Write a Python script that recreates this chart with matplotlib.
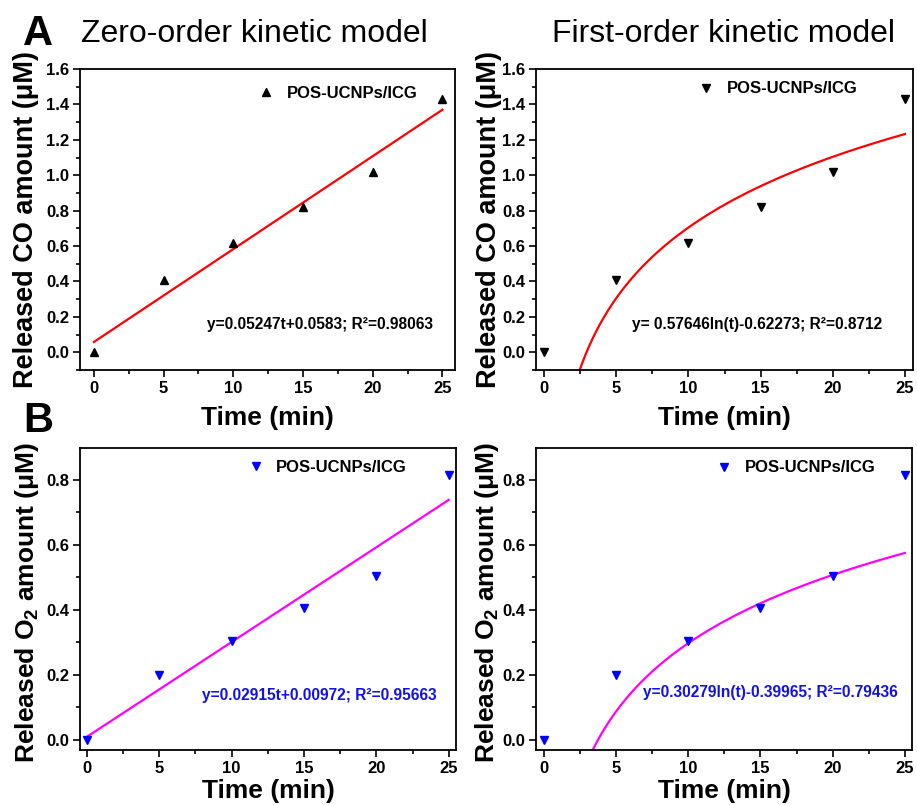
import numpy as np
import matplotlib
matplotlib.use("Agg")
import matplotlib.pyplot as plt
from matplotlib.ticker import MultipleLocator

plt.rcParams["font.family"] = ["Liberation Sans", "DejaVu Sans"]
plt.rcParams["font.weight"] = "bold"
plt.rcParams["mathtext.fontset"] = "custom"
plt.rcParams["mathtext.rm"] = "Liberation Sans:bold"
plt.rcParams["mathtext.it"] = "Liberation Sans:bold"
plt.rcParams["mathtext.bf"] = "Liberation Sans:bold"

# Release measurements
time_min = [0, 5, 10, 15, 20, 25]
co_released = [0.0, 0.41, 0.615, 0.82, 1.02, 1.43]
o2_released = [0.0, 0.20, 0.305, 0.405, 0.505, 0.815]

# Fitted model parameters
co_zero = (0.05247, 0.0583)
co_first = (0.57646, -0.62273)
o2_zero = (0.02915, 0.00972)
o2_first = (0.30279, -0.39965)

co_zero_eq = "y=0.05247t+0.0583; R\u00b2=0.98063"
co_first_eq = "y= 0.57646ln(t)-0.62273; R\u00b2=0.8712"
o2_zero_eq = "y=0.02915t+0.00972; R\u00b2=0.95663"
o2_first_eq = "y=0.30279ln(t)-0.39965; R\u00b2=0.79436"

series_label = "POS-UCNPs/ICG"

W, H = 917, 805
fig = plt.figure(figsize=(W / 100, H / 100), dpi=100)


def axes_px(left, right, top, bottom):
    return fig.add_axes([left / W, 1 - bottom / H, (right - left) / W, (bottom - top) / H])


def style(ax, xlim, ylim, ymajor, yminor, xpad):
    ax.set_xlim(*xlim)
    ax.set_ylim(*ylim)
    ax.xaxis.set_major_locator(MultipleLocator(5))
    ax.xaxis.set_minor_locator(MultipleLocator(2.5))
    ax.yaxis.set_major_locator(MultipleLocator(ymajor))
    ax.yaxis.set_minor_locator(MultipleLocator(yminor))
    ax.tick_params(which="both", direction="out", top=False, right=False,
                   width=1.2, labelsize=12)
    ax.tick_params(which="major", length=5, pad=3)
    ax.tick_params(which="minor", length=3)
    for s in ax.spines.values():
        s.set_linewidth(1.3)
    for lab in ax.get_xticklabels() + ax.get_yticklabels():
        lab.set_fontweight("bold")
    ax.set_xlabel("Time (min)", fontsize=19, fontweight="bold", labelpad=xpad)


def legend(ax, xr, yc):
    ax.legend(loc="center right", bbox_to_anchor=(xr, yc), frameon=False,
              borderaxespad=0, borderpad=0, handlelength=1.0,
              handletextpad=0.75, prop={"size": 12, "weight": "bold"})


t = np.linspace(0, 25, 200)

# A: CO zero-order
ax = axes_px(80, 455, 69, 370)
ax.plot(time_min, co_released, "^", color="black", ms=6, label=series_label, zorder=3)
ax.plot(t, co_zero[0] * t + co_zero[1], color="#ff0000", lw=1.6)
style(ax, (-1.0, 25.9), (-0.1, 1.6), 0.2, 0.1, 7)
ax.set_ylabel("Released CO amount (\u03bcM)", fontsize=19.5, fontweight="bold")
ax.yaxis.set_label_coords(-0.108, 0.5)
ax.text(0.339, 0.150, co_zero_eq, transform=ax.transAxes, fontsize=11.2,
        fontweight="bold", ha="left", va="center")
legend(ax, 0.901, 0.920)

# A: CO first-order
ax = axes_px(536, 913, 69, 370)
ax.plot(time_min, co_released, "v", color="black", ms=6, label=series_label, zorder=3)
t0 = np.exp((-0.1 - co_first[1]) / co_first[0])
tl = np.linspace(t0, 25, 300)
ax.plot(tl, co_first[0] * np.log(tl) + co_first[1], color="#ff0000", lw=1.6)
style(ax, (-0.55, 25.55), (-0.1, 1.6), 0.2, 0.1, 7)
ax.set_ylabel("Released CO amount (\u03bcM)", fontsize=19.5, fontweight="bold")
ax.yaxis.set_label_coords(-0.089, 0.5)
ax.text(0.255, 0.150, co_first_eq, transform=ax.transAxes, fontsize=11.2,
        fontweight="bold", ha="left", va="center")
legend(ax, 0.854, 0.934)

# B: O2 zero-order
ax = axes_px(80, 456, 448, 750)
ax.plot(time_min, o2_released, "v", color="#0000ff", ms=6, label=series_label, zorder=3)
ax.plot(t, o2_zero[0] * t + o2_zero[1], color="#ff00ff", lw=1.6)
style(ax, (-0.48, 25.5), (-0.031, 0.898), 0.2, 0.1, 2)
ax.set_ylabel("Released O$_2$ amount (\u03bcM)", fontsize=19, fontweight="bold")
ax.yaxis.set_label_coords(-0.105, 0.49)
ax.text(0.324, 0.179, o2_zero_eq, transform=ax.transAxes, fontsize=11.2,
        fontweight="bold", ha="left", va="center", color="#1010ee")
legend(ax, 0.870, 0.937)

# B: O2 first-order
ax = axes_px(536, 912, 448, 750)
ax.plot(time_min, o2_released, "v", color="#0000ff", ms=6, label=series_label, zorder=3)
t0 = np.exp((-0.031 - o2_first[1]) / o2_first[0])
tl = np.linspace(t0, 25, 300)
ax.plot(tl, o2_first[0] * np.log(tl) + o2_first[1], color="#ff00ff", lw=1.6)
style(ax, (-0.55, 25.5), (-0.031, 0.898), 0.2, 0.1, 2)
ax.set_ylabel("Released O$_2$ amount (\u03bcM)", fontsize=19, fontweight="bold")
ax.yaxis.set_label_coords(-0.092, 0.49)
ax.text(0.285, 0.192, o2_first_eq, transform=ax.transAxes, fontsize=11.2,
        fontweight="bold", ha="left", va="center", color="#1010ee")
legend(ax, 0.904, 0.934)

# Panel titles and letters
fig.text(81 / W, 1 - 42 / H, "Zero-order kinetic model", fontsize=23,
         fontweight="normal", ha="left", va="baseline")
fig.text(552 / W, 1 - 42 / H, "First-order kinetic model", fontsize=23,
         fontweight="normal", ha="left", va="baseline")
fig.text(23 / W, 1 - 45 / H, "A", fontsize=30, fontweight="bold",
         ha="left", va="baseline")
fig.text(23 / W, 1 - 432 / H, "B", fontsize=30, fontweight="bold",
         ha="left", va="baseline")

fig.savefig("out.png", dpi=100)
